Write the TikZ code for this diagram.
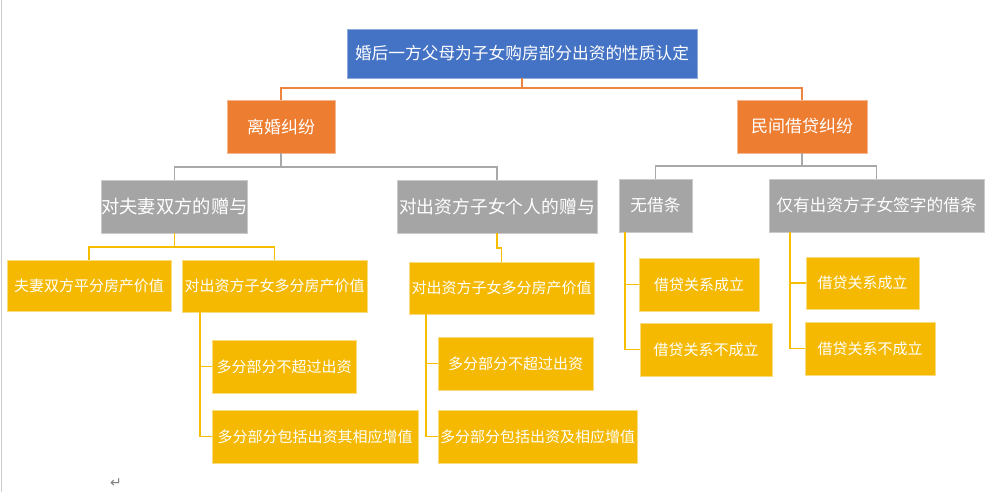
\documentclass[tikz,border=0pt]{standalone}
\usepackage{fontspec}
\newfontfamily\cjk{Noto Sans CJK SC}
\newfontfamily\dejavu{DejaVu Sans}
\usetikzlibrary{calc}
\definecolor{blueC}{HTML}{4472C4}
\definecolor{orangeC}{HTML}{ED7D31}
\definecolor{grayC}{HTML}{A5A5A5}
\definecolor{goldC}{HTML}{F4B900}
\definecolor{lineO}{HTML}{EE8440}
\definecolor{lineG}{HTML}{A9A9A9}
\definecolor{lineY}{HTML}{F7BE00}
\begin{document}
\begin{tikzpicture}[x=1pt,y=-1pt,
  box/.style={rectangle,inner sep=0pt,text=white,line width=0.8pt},
  rootbox/.style={box,fill=blueC,draw=blueC!60!white,font=\cjk\fontsize{16.7}{20}\selectfont},
  obox/.style={box,fill=orangeC,draw=orangeC!55!white,font=\cjk\fontsize{17}{20}\selectfont},
  gbox/.style={box,fill=grayC,draw=grayC!60!white,font=\cjk\fontsize{17.5}{20}\selectfont},
  ybox/.style={box,fill=goldC,draw=goldC!50!white,font=\cjk\fontsize{15}{18}\selectfont},
  oline/.style={draw=lineO,line width=1.8pt},
  gline/.style={draw=lineG,line width=1.8pt},
  yline/.style={draw=lineY,line width=1.8pt}]
\useasboundingbox (0,0) rectangle (989,492);
\fill[white] (0,0) rectangle (989,492);
\draw[line width=1.2pt,draw=black!20] (1.5,0) -- (1.5,492);

\node[rootbox,minimum width=350pt,minimum height=49pt] (root) at (522,53.5) {婚后一方父母为子女购房部分出资的性质认定};
\node[obox,minimum width=108pt,minimum height=53pt] (lihun) at (281,126.5) {离婚纠纷};
\node[obox,minimum width=130pt,minimum height=53pt] (minjian) at (802,126.5) {民间借贷纠纷};

\node[gbox,minimum width=145pt,minimum height=53pt,font=\cjk\fontsize{18.3}{22}\selectfont] (g1) at (174.5,206.5) {对夫妻双方的赠与};
\node[gbox,minimum width=200pt,minimum height=53pt,font=\cjk\fontsize{17.8}{22}\selectfont] (g2) at (497,206.5) {对出资方子女个人的赠与};
\node[gbox,minimum width=73pt,minimum height=53pt,font=\cjk\fontsize{16.7}{20}\selectfont] (g3) at (655.5,205.5) {无借条};
\node[gbox,minimum width=215pt,minimum height=53pt,font=\cjk\fontsize{16.7}{20}\selectfont] (g4) at (876.5,205.5) {仅有出资方子女签字的借条};

\node[ybox,minimum width=164pt,minimum height=51pt] (y1) at (89,285.5) {夫妻双方平分房产价值};
\node[ybox,minimum width=185pt,minimum height=52pt] (y2) at (274.5,286) {对出资方子女多分房产价值};
\node[ybox,minimum width=144pt,minimum height=53pt] (y3) at (284,366.5) {多分部分不超过出资};
\node[ybox,minimum width=206pt,minimum height=53pt] (y4) at (315,436.5) {多分部分包括出资其相应增值};
\node[ybox,minimum width=185pt,minimum height=52pt] (y5) at (501.5,288) {对出资方子女多分房产价值};
\node[ybox,minimum width=155pt,minimum height=53pt] (y6) at (515.5,363.5) {多分部分不超过出资};
\node[ybox,minimum width=199pt,minimum height=53pt] (y7) at (537.5,436.5) {多分部分包括出资及相应增值};
\node[ybox,minimum width=120pt,minimum height=53pt] (y8) at (699,284.5) {借贷关系成立};
\node[ybox,minimum width=132pt,minimum height=53pt] (y9) at (706,349.5) {借贷关系不成立};
\node[ybox,minimum width=113pt,minimum height=52pt] (y10) at (862.5,283) {借贷关系成立};
\node[ybox,minimum width=130pt,minimum height=53pt] (y11) at (870,348.5) {借贷关系不成立};

\node[text=black!50,font=\dejavu\fontsize{14}{14}\selectfont,inner sep=0pt] (ret) at (116,483) {↵};

% orange connectors
\draw[oline] (root.south) -- ++(0,10) coordinate (rj) -| (lihun.north);
\draw[oline] (rj) -| (minjian.north);
% gray connectors
\draw[gline] (lihun.south) -- ++(0,14) coordinate (lj) -| (g1.north);
\draw[gline] (lj) -| (g2.north);
\draw[gline] (minjian.south) -- ++(0,13) coordinate (mj) -| (g3.north);
\draw[gline] (mj) -| (g4.north);
% yellow connectors
\draw[yline] (g1.south) -- ++(0,14) coordinate (g1j) -| (y1.north);
\draw[yline] (g1j) -| (y2.north);
\draw[yline] (g2.south) -- ++(0,15) -| (y5.north);
\draw[yline] ($(y2.south west)+(18,0)$) |- (y3.west);
\draw[yline] ($(y2.south west)+(18,0)$) |- (y4.west);
\draw[yline] ($(y5.south west)+(17,0)$) |- (y6.west);
\draw[yline] ($(y5.south west)+(17,0)$) |- (y7.west);
\draw[yline] ($(g3.south west)+(6,0)$) |- (y8.west);
\draw[yline] ($(g3.south west)+(6,0)$) |- (y9.west);
\draw[yline] ($(g4.south west)+(21,0)$) |- (y10.west);
\draw[yline] ($(g4.south west)+(21,0)$) |- (y11.west);
\end{tikzpicture}
\end{document}
